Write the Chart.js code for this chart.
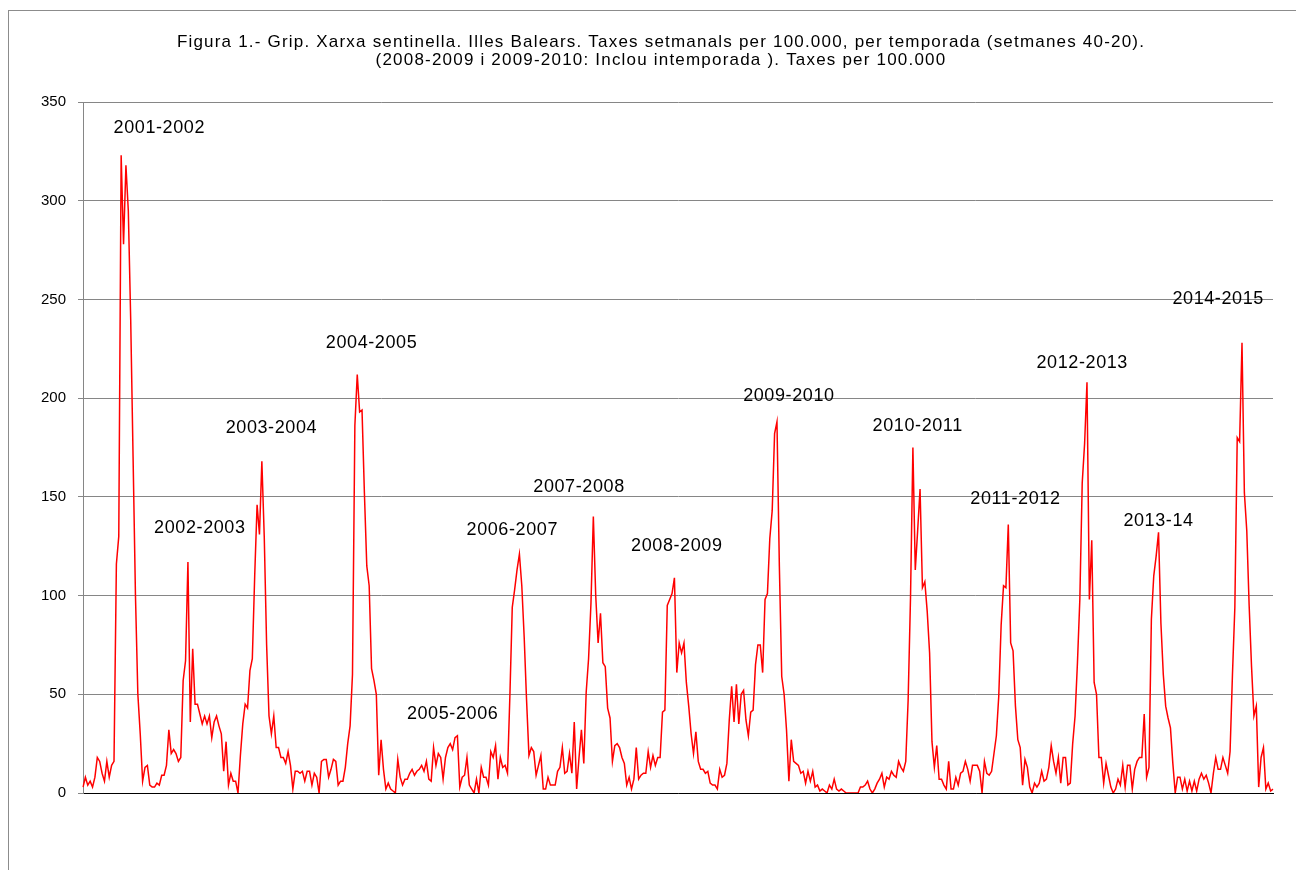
<!DOCTYPE html>
<html>
<head>
<meta charset="utf-8">
<script src="https://cdn.jsdelivr.net/npm/chart.js@4/dist/chart.umd.min.js"></script>
<style>
  body { margin: 0; background: #fff; }
  #border { position: absolute; left: 8px; top: 10px; width: 1400px; height: 1000px; border: 1px solid #8c8c8c; }
  #wrap { position: absolute; left: 0; top: 0; width: 1296px; height: 870px; }
</style>
</head>
<body>
<div id="border"></div>
<div id="wrap"><canvas id="myChart" width="1296" height="870"></canvas></div>
<script>
// seasons, weeks 40-20 (2008-2009 and 2009-2010 include the inter-season weeks)
const seasons = ['2001-2002', '2002-2003', '2003-2004', '2004-2005', '2005-2006', '2006-2007', '2007-2008',
    '2008-2009', '2009-2010', '2010-2011', '2011-2012', '2012-2013', '2013-14', '2014-2015'];
const fullYear = ['2008-2009', '2009-2010'];

// weekly rates per 100.000
const t2001 = [3, 8, 4, 6, 3, 8, 18, 16, 10, 6, 16, 8, 14, 16, 116, 130, 323, 278, 318, 295, 240, 170, 100, 50, 30, 6, 13, 14, 4, 3, 3, 5, 4];
const t2002 = [9, 9, 14, 32, 20, 22, 20, 16, 18, 57, 67, 117, 36, 73, 45, 45, 40, 35, 39, 35, 39, 28, 36, 39, 34, 30, 11, 26, 4, 10, 6, 6, 0];
const t2003 = [19, 35, 45, 43, 62, 68, 110, 146, 131, 168, 130, 75, 39, 30, 39, 23, 23, 18, 18, 15, 21, 14, 2, 11, 11, 10, 11, 6, 11, 11, 4, 10, 8];
const t2004 = [0, 16, 17, 17, 8, 12, 17, 16, 4, 6, 6, 13, 25, 34, 60, 186, 212, 193, 194, 152, 115, 105, 63, 57, 50, 9, 27, 12, 2, 5, 2, 1, 0];
const t2005 = [17, 8, 4, 7, 7, 10, 12, 9, 11, 12, 14, 11, 16, 7, 6, 23, 14, 20, 18, 7, 18, 23, 25, 22, 28, 29, 3, 8, 9, 18, 4, 2, 0];
const t2006 = [7, 0, 13, 8, 8, 4, 21, 18, 24, 7, 18, 13, 14, 10, 49, 94, 103, 113, 121, 105, 79, 47, 19, 23, 21, 9, 14, 19, 2, 2, 8, 4, 4];
const t2007 = [4, 11, 13, 23, 10, 11, 20, 10, 36, 2, 18, 32, 15, 51, 68, 96, 140, 100, 76, 91, 66, 64, 43, 38, 16, 24, 25, 23, 18, 15, 4, 8, 2];
const t2008 = [7, 23, 7, 9, 10, 10, 21, 13, 19, 14, 18, 18, 41, 42, 95, 98, 101, 109, 61, 76, 71, 76, 56, 44, 30, 20, 31, 16, 12, 12,
    10, 11, 5, 4, 4, 2, 12, 8, 9, 15, 37, 54, 36, 55, 35, 50, 52, 37, 29, 41, 42, 65];
const t2009 = [75, 75, 61, 98, 101, 129, 143, 182, 188, 115, 59, 50, 32, 6, 27, 16, 15, 14, 10, 11, 5, 11, 6, 11, 3, 4, 1, 2, 1, 0,
    4, 2, 7, 2, 1, 2, 1, 0, 0, 0, 0, 0, 0, 3, 3, 4, 6, 2, 0, 2, 5, 7];
const t2010 = [10, 3, 8, 7, 11, 9, 8, 16, 13, 11, 16, 47, 99, 175, 113, 133, 154, 104, 107, 92, 71, 26, 13, 24, 7, 7, 4, 2, 16, 2, 2, 8, 4];
const t2011 = [10, 11, 16, 12, 6, 14, 14, 14, 11, 0, 16, 10, 9, 11, 20, 29, 49, 85, 105, 104, 136, 76, 72, 44, 27, 23, 4, 17, 13, 3, 0, 5, 3];
const t2012 = [5, 11, 6, 7, 13, 24, 16, 10, 18, 5, 18, 18, 4, 5, 25, 39, 66, 98, 157, 177, 208, 98, 128, 56, 50, 18, 18, 5, 15, 9, 3, 0, 2];
const t2013 = [7, 4, 14, 3, 14, 14, 2, 12, 16, 18, 18, 40, 8, 13, 88, 110, 120, 132, 86, 60, 44, 38, 33, 15, 0, 8, 8, 2, 7, 1, 6, 1, 6];
const t2014 = [1, 7, 10, 7, 9, 5, 0, 10, 18, 12, 12, 18, 14, 10, 21, 60, 94, 180, 178, 228, 152, 133, 95, 64, 39, 44, 3, 18, 23, 2, 5, 1, 2];

const yTicks = [0, 50, 100, 150, 200, 250, 300, 350];

// where each season name sits: week index along the series and height in rate units
const seasonTags = [
    { text: '2001-2002', at: 32, rate: 337 },
    { text: '2002-2003', at: 49, rate: 134 },
    { text: '2003-2004', at: 79, rate: 185 },
    { text: '2004-2005', at: 121, rate: 228 },
    { text: '2005-2006', at: 155, rate: 40 },
    { text: '2006-2007', at: 180, rate: 133 },
    { text: '2007-2008', at: 208, rate: 155 },
    { text: '2008-2009', at: 249, rate: 125 },
    { text: '2009-2010', at: 296, rate: 201 },
    { text: '2010-2011', at: 350, rate: 186 },
    { text: '2011-2012', at: 391, rate: 149 },
    { text: '2012-2013', at: 419, rate: 218 },
    { text: '2013-14', at: 451, rate: 138 },
    { text: '2014-2015', at: 476, rate: 250 }
];

const titleLines = [
    'Figura 1.- Grip. Xarxa sentinella. Illes Balears. Taxes setmanals per 100.000, per temporada (setmanes 40-20).',
    '(2008-2009 i 2009-2010: Inclou intemporada ). Taxes per 100.000'
];

const seasonValues = [t2001, t2002, t2003, t2004, t2005, t2006, t2007, t2008, t2009, t2010, t2011, t2012, t2013, t2014];

function seasonWeeks(season) {
    const weeks = [];
    for (let w = 40; w <= 52; w++) weeks.push(w);
    const last = fullYear.includes(season) ? 39 : 20;
    for (let w = 1; w <= last; w++) weeks.push(w);
    return weeks;
}

const labels = [];
seasons.forEach(s => seasonWeeks(s).forEach(w => labels.push(s + ' s' + w)));
const values = [].concat(...seasonValues);

const textPlugin = {
    id: 'textPlugin',
    afterDraw(chart) {
        const ctx = chart.ctx;
        const x = chart.scales.x;
        const y = chart.scales.y;
        ctx.save();
        ctx.fillStyle = '#000';
        ctx.textAlign = 'center';
        ctx.textBaseline = 'middle';
        ctx.font = '17px "Liberation Sans", Arial, sans-serif';
        ctx.letterSpacing = '1.2px';
        titleLines.forEach((line, i) => ctx.fillText(line, chart.width / 2 + 13, 42 + i * 18));
        ctx.letterSpacing = '0.6px';
        ctx.font = '18px "Liberation Sans", Arial, sans-serif';
        seasonTags.forEach(t => ctx.fillText(t.text, x.getPixelForValue(t.at), y.getPixelForValue(t.rate)));
        ctx.restore();
    }
};

const ctx = document.getElementById('myChart').getContext('2d');
new Chart(ctx, {
    type: 'line',
    data: {
        labels: labels,
        datasets: [{
            data: values,
            borderColor: '#ff0000',
            borderWidth: 1.5,
            pointRadius: 0,
            tension: 0,
            fill: false
        }]
    },
    options: {
        responsive: false,
        animation: false,
        devicePixelRatio: 1,
        layout: { padding: { left: 0, right: 23, top: 102, bottom: 77 } },
        plugins: {
            legend: { display: false },
            tooltip: { enabled: false },
            title: { display: false }
        },
        scales: {
            x: {
                offset: false,
                grid: { display: false },
                ticks: { display: false },
                border: { color: '#000', width: 1 },
                afterFit: scale => { scale.height = 0; }
            },
            y: {
                min: 0,
                max: 350,
                afterBuildTicks: scale => { scale.ticks = yTicks.map(v => ({ value: v })); },
                grid: { color: '#868686', tickLength: 5 },
                border: { color: '#868686' },
                ticks: {
                    color: '#000',
                    padding: 12,
                    font: { size: 15, family: '"Liberation Sans", Arial, sans-serif' }
                },
                afterFit: scale => { scale.width = 83; }
            }
        }
    },
    plugins: [textPlugin]
});
</script>
</body>
</html>
